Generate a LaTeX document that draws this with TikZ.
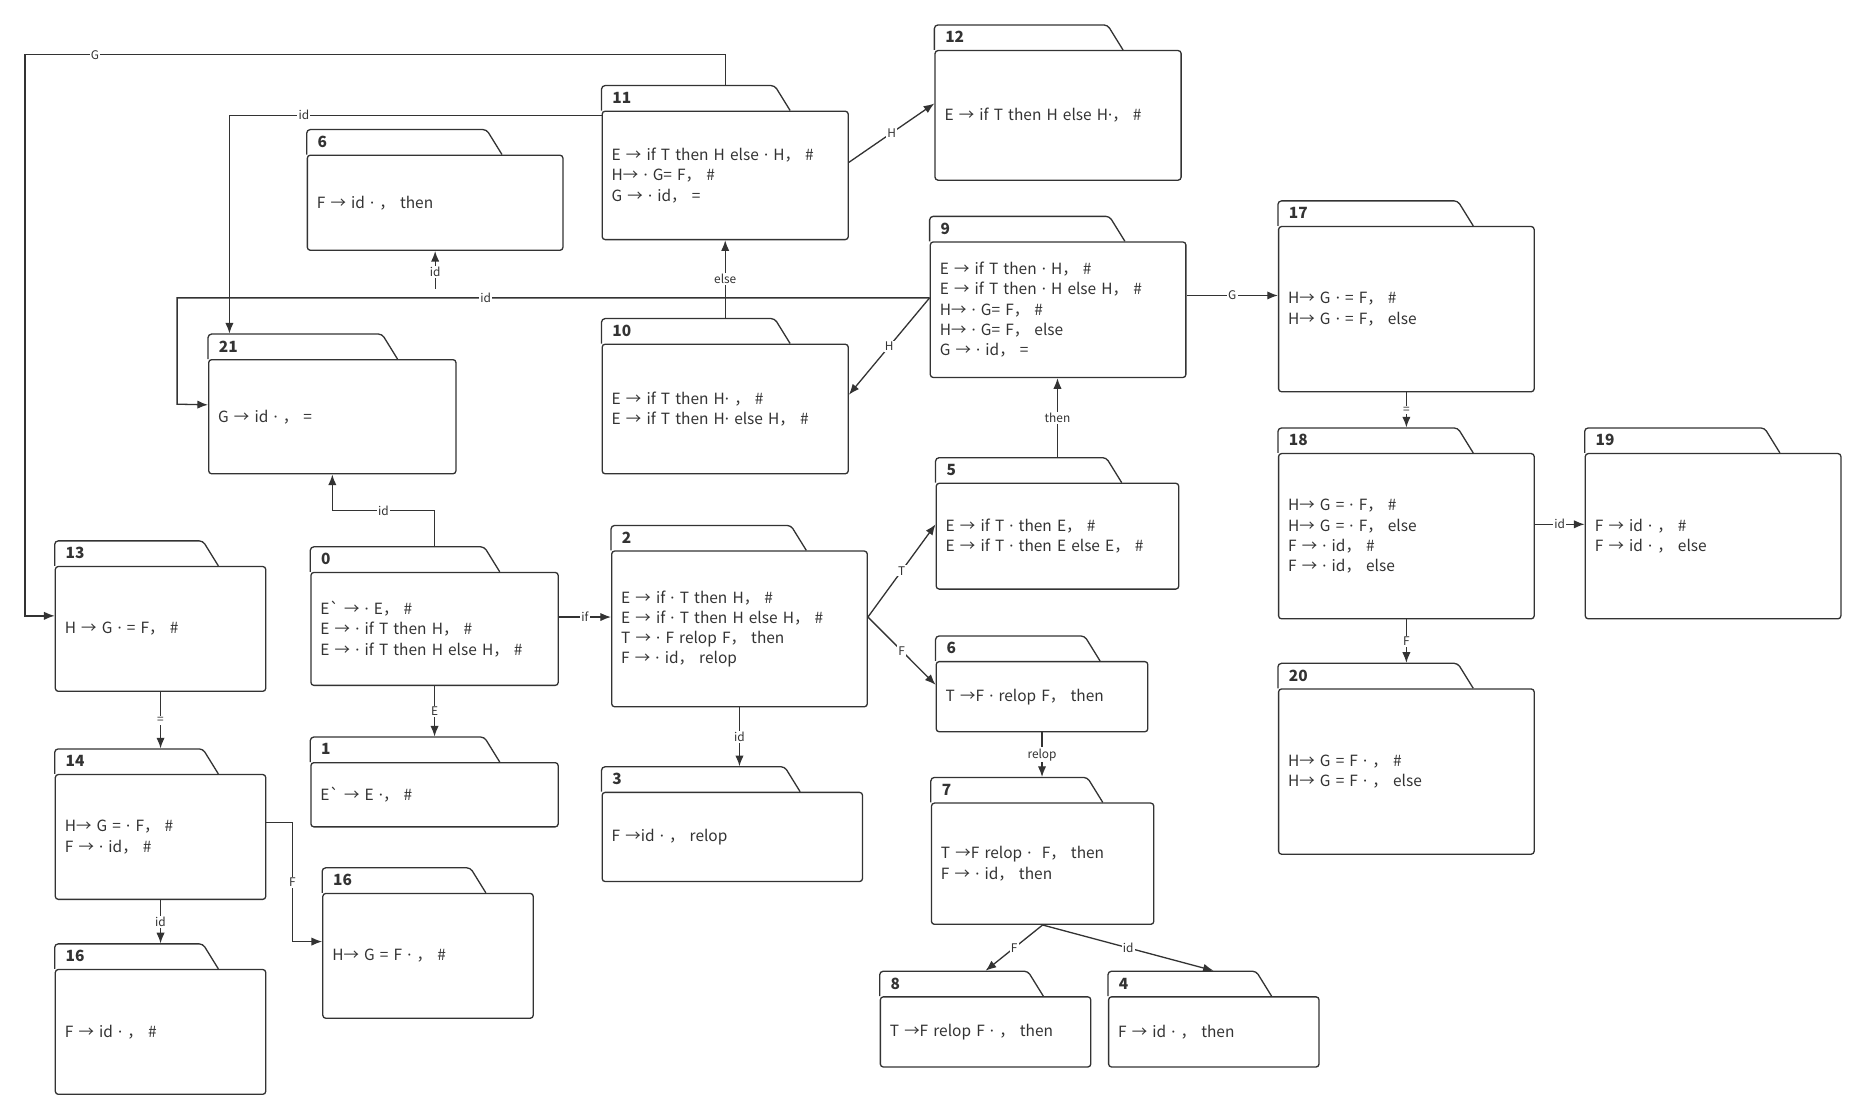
\documentclass[tikz,border=0pt]{standalone}
\usepackage{fontspec}
\setmainfont{Noto Sans CJK SC}[Ligatures=TeXOff]
\newfontfamily\latinfont{Noto Sans}
\newcommand{\pd}{{\latinfont ·}}
\usetikzlibrary{arrows.meta,calc}
\definecolor{linec}{HTML}{333333}

\begin{document}
\begin{tikzpicture}[
        x=1pt, y=-1pt, color=linec, font=\fontsize{13}{17}\selectfont,
        folder/.style={draw=linec, line width=1.1pt, rounded corners=2.5pt, fill=white, anchor=north west, align=left, inner xsep=8pt, inner ysep=2pt},
        tabline/.style={draw=linec, line width=1.1pt, rounded corners=3pt},
        num/.style={anchor=south west, font=\bfseries\fontsize{13}{15}\selectfont, minimum height=21pt, inner xsep=9pt, inner ysep=0pt},
        flow/.style={->, >={Latex[length=9pt,width=7pt]}, line width=1.1pt, draw=linec},
        lbl/.style={font=\fontsize{10}{12}\selectfont, fill=white, inner sep=1pt}
    ]
        \useasboundingbox (0,0) rectangle (1568,941);

        % Upper row of states.
        \node[folder, text width=191pt, minimum height=109pt] (s12) at (786,42) {E → if T then H else H\pd ， \#};
        \node[folder, text width=191pt, minimum height=108pt] (s11) at (506,93) {E → if T then H else \pd\ H， \#\\H→ \pd\ G= F， \#\\G → \pd\ id， =};
        \node[folder, text width=199pt, minimum height=80pt] (s6) at (258,130) {F → id \pd\ ， then};
        \node[folder, text width=199pt, minimum height=114pt] (s9) at (782,203) {E → if T then \pd\ H， \#\\E → if T then \pd\ H else H， \#\\H→ \pd\ G= F， \#\\H→ \pd\ G= F， else\\G → \pd\ id， =};
        \node[folder, text width=199pt, minimum height=139pt] (s17) at (1075,190) {H→ G \pd\ = F， \#\\H→ G \pd\ = F， else};
        \node[folder, text width=192pt, minimum height=96pt] (s21) at (175,302) {G → id \pd\ ， =};
        \node[folder, text width=191pt, minimum height=109pt] (s10) at (506,289) {E → if T then H\pd\ ， \#\\E → if T then H\pd\ else H， \#};

        % Middle row of states.
        \node[folder, text width=188pt, minimum height=89pt] (s5) at (787,406) {E → if T \pd\ then E， \#\\E → if T \pd\ then E else E， \#};
        \node[folder, text width=199pt, minimum height=139pt] (s18) at (1075,381) {H→ G = \pd\ F， \#\\H→ G = \pd\ F， else\\F → \pd\ id， \#\\F → \pd\ id， else};
        \node[folder, text width=199pt, minimum height=139pt] (s19) at (1333,381) {F → id \pd\ ， \#\\F → id \pd\ ， else};
        \node[folder, text width=161pt, minimum height=105pt] (s13) at (46,476) {H → G \pd\ = F， \#};
        \node[folder, text width=192pt, minimum height=95pt] (s0) at (261,481) {E` → \pd\ E， \#\\E → \pd\ if T then H， \#\\E → \pd\ if T then H else H， \#};
        \node[folder, text width=199pt, minimum height=131pt] (s2) at (514,463) {E → if \pd\ T then H， \#\\E → if \pd\ T then H else H， \#\\T → \pd\ F relop F， then\\F → \pd\ id， relop};
        \node[folder, text width=162pt, minimum height=59pt] (s6b) at (787,556) {T →F \pd\ relop F， then};
        \node[folder, text width=199pt, minimum height=139pt] (s20) at (1075,579) {H→ G = F \pd\ ， \#\\H→ G = F \pd\ ， else};

        % Lower row of states.
        \node[folder, text width=192pt, minimum height=54pt] (s1) at (261,641) {E` → E \pd， \#};
        \node[folder, text width=203pt, minimum height=75pt] (s3) at (506,666) {F →id \pd\ ， relop};
        \node[folder, text width=171pt, minimum height=102pt] (s7) at (783,675) {T →F relop \pd\ \ F， then\\F → \pd\ id， then};
        \node[folder, text width=161pt, minimum height=105pt] (s14) at (46,651) {H→ G = \pd\ F， \#\\F → \pd\ id， \#};
        \node[folder, text width=161pt, minimum height=105pt] (s16) at (271,751) {H→ G = F \pd\ ， \#};
        \node[folder, text width=161pt, minimum height=105pt] (s16b) at (46,815) {F → id \pd\ ， \#};
        \node[folder, text width=161pt, minimum height=59pt] (s8) at (740,838) {T →F relop F \pd\ ， then};
        \node[folder, text width=161pt, minimum height=59pt] (s4) at (932,838) {F → id \pd\ ， then};

        % Folder tabs and state numbers.
        \foreach \s in {s12,s11,s6,s9,s17,s21,s10,s5,s18,s19,s13,s0,s2,s6b,s20,s1,s3,s7,s14,s16,s16b,s8,s4}
            \draw[tabline] (\s.north west) -- ++(0pt,21pt) -- ($(\s.north west)!0.7!(\s.north east)+(0pt,21pt)$)
                [sharp corners] -- ($(\s.north west)!0.7!(\s.north east)+(13pt,0pt)$);
        \node[num] (n12) at (s12.north west) {12};
        \node[num] (n11) at (s11.north west) {11};
        \node[num] (n6) at (s6.north west) {6};
        \node[num] (n9) at (s9.north west) {9};
        \node[num] (n17) at (s17.north west) {17};
        \node[num] (n21) at (s21.north west) {21};
        \node[num] (n10) at (s10.north west) {10};
        \node[num] (n5) at (s5.north west) {5};
        \node[num] (n18) at (s18.north west) {18};
        \node[num] (n19) at (s19.north west) {19};
        \node[num] (n13) at (s13.north west) {13};
        \node[num] (n0) at (s0.north west) {0};
        \node[num] (n2) at (s2.north west) {2};
        \node[num] (n6b) at (s6b.north west) {6};
        \node[num] (n20) at (s20.north west) {20};
        \node[num] (n1) at (s1.north west) {1};
        \node[num] (n3) at (s3.north west) {3};
        \node[num] (n7) at (s7.north west) {7};
        \node[num] (n14) at (s14.north west) {14};
        \node[num] (n16) at (s16.north west) {16};
        \node[num] (n16b) at (s16b.north west) {16};
        \node[num] (n8) at (s8.north west) {8};
        \node[num] (n4) at (s4.north west) {4};

        % Transitions out of 11.
        \draw[flow] (s11.north |- n11.north) |- (21,46) node[lbl, pos=0.95] {G} |- ([yshift=11pt]s13.west);
        \draw[flow] ([yshift=-4pt]s11.north west) -| ([xshift=18pt]n21.north west) node[lbl, pos=0.4] {id};
        \draw[flow] ([yshift=11pt]s11.east) -- ([yshift=10pt]s12.west) node[lbl, midway] {H};

        % Transitions out of 9, 10 and 5.
        \draw[flow] ([yshift=10pt]s9.west) -| (149,340) node[lbl, pos=0.295] {id} -- ([yshift=10pt]s21.west);
        \draw[flow] ([yshift=10pt]s9.west) -- ([yshift=12pt]s10.east) node[lbl, midway] {H};
        \draw[flow] ([yshift=12pt]s9.east) -- ([yshift=12pt]s9.east -| s17.west) node[lbl, midway] {G};
        \draw[flow] (s10.north |- n10.north) -- (s11.south) node[lbl, midway] {else};
        \draw[flow] (s5.north |- n5.north) -- (s5.north |- s9.south) node[lbl, midway] {then};
        \coordinate (idstub) at ([yshift=-32pt]s6.south);
        \draw[flow] (idstub) -- (s6.south) node[lbl, pos=0.45] {id};

        % Transitions out of 0 and 2.
        \draw[flow] (s0.north |- n0.north) -- ++(0,-30) -| (s21.south) node[lbl, pos=0.25] {id};
        \draw[flow] ([yshift=10pt]s0.east) -- ([yshift=10pt]s0.east -| s2.west) node[lbl, midway] {if};
        \draw[flow] (s0.south) -- (s0.south |- n1.north) node[lbl, midway] {E};
        \draw[flow] ([yshift=10pt]s2.east) -- ([yshift=10pt]s5.west) node[lbl, midway] {T};
        \draw[flow] ([yshift=10pt]s2.east) -- ([yshift=10pt]s6b.west) node[lbl, midway] {F};
        \draw[flow] (s2.south) -- (s2.south |- n3.north) node[lbl, midway] {id};

        % Transitions out of 6 and 7.
        \draw[flow] (s6b.south) -- (s6b.south |- n7.north) node[lbl, midway] {relop};
        \draw[flow] (s7.south) -- (s8.north |- n8.north) node[lbl, midway] {F};
        \draw[flow] (s7.south) -- (s4.north |- n4.north) node[lbl, midway] {id};

        % Transitions out of 17 and 18.
        \draw[flow] (s17.south) -- (s17.south |- n18.north) node[lbl, midway] {=};
        \draw[flow] ([yshift=10pt]s18.east) -- ([yshift=10pt]s18.east -| s19.west) node[lbl, midway] {id};
        \draw[flow] (s18.south) -- (s18.south |- n20.north) node[lbl, midway] {F};

        % Transitions out of 13 and 14.
        \draw[flow] (s13.south) -- (s13.south |- n14.north) node[lbl, midway] {=};
        \draw[flow] (s14.south) -- (s14.south |- n16b.north) node[lbl, midway] {id};
        \draw[flow] ([yshift=12pt]s14.east) -| ([xshift=-25pt,yshift=12pt]s16.west) node[lbl, pos=0.75] {F} -- ([yshift=12pt]s16.west);
    \end{tikzpicture}
\end{document}
